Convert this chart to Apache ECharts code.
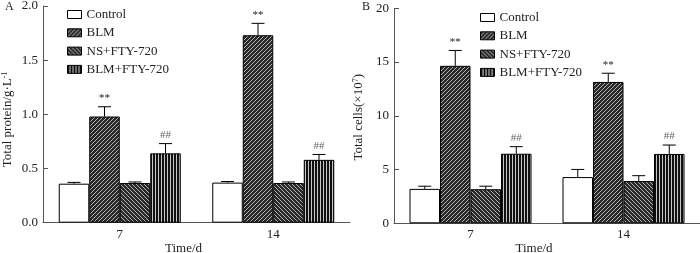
<!DOCTYPE html>
<html><head><meta charset="utf-8">
<script src="https://cdn.jsdelivr.net/npm/echarts@6/dist/echarts.min.js"></script>
<style>html,body{margin:0;padding:0;background:#fff}#c{width:700px;height:253px}</style>
</head><body><div id="c"></div>
<script>
// ---- data ----
const categories = ['7', '14'];
const seriesNames = ['Control', 'BLM', 'NS+FTY-720', 'BLM+FTY-720'];
const yTicksProtein = ['0.0', '0.5', '1.0', '1.5', '2.0'];
const yTicksCells = ['0', '5', '10', '15', '20'];

const proteinControl = [0.36, 0.37];
const proteinBLM = [0.98, 1.73];
const proteinNS = [0.366, 0.366];
const proteinBLMFTY = [0.64, 0.58];
const proteinErrControl = [0.012, 0.01];
const proteinErrBLM = [0.09, 0.11];
const proteinErrNS = [0.01, 0.01];
const proteinErrBLMFTY = [0.09, 0.05];

const cellsControl = [3.2, 4.3];
const cellsBLM = [14.65, 13.15];
const cellsNS = [3.17, 3.93];
const cellsBLMFTY = [6.47, 6.45];
const cellsErrControl = [0.25, 0.71];
const cellsErrBLM = [1.43, 0.81];
const cellsErrNS = [0.28, 0.5];
const cellsErrBLMFTY = [0.66, 0.83];

const marksControl = ['', ''];
const marksBLM = ['**', '**'];
const marksNS = ['', ''];
const marksBLMFTY = ['##', '##'];

// ---- styles ----
const FONT = '"Liberation Serif", "Times New Roman", serif';
const BAR_W = 30.5;
const CAP = 13;

function makePattern(kind) {
  const c = document.createElement('canvas');
  const ctx = c.getContext('2d');
  if (kind === 'vert') {
    c.width = 3; c.height = 3;
    ctx.fillStyle = '#111'; ctx.fillRect(0, 0, 3, 3);
    ctx.fillStyle = '#c8c8c8'; ctx.fillRect(2, 0, 1, 3);
  } else {
    const n = 4;
    c.width = n; c.height = n;
    ctx.fillStyle = '#2a2a2a'; ctx.fillRect(0, 0, n, n);
    ctx.strokeStyle = '#b0b0b0'; ctx.lineWidth = 1;
    ctx.beginPath();
    for (let k = -n; k <= n; k += n) {
      if (kind === 'fwd') { ctx.moveTo(k, n); ctx.lineTo(k + n, 0); }
      else { ctx.moveTo(k, 0); ctx.lineTo(k + n, n); }
    }
    ctx.stroke();
  }
  return { image: c, repeat: 'repeat' };
}
const fills = ['#ffffff', makePattern('fwd'), makePattern('back'), makePattern('vert')];

function errRender(sIdx, marks) {
  return function (params, api) {
    const i = api.value(0), v = api.value(1), e = api.value(2);
    const base = api.coord([i, v]);
    const top = api.coord([i, v + e]);
    const x = base[0] + (sIdx - 1.5) * BAR_W;
    const children = [
      { type: 'line', shape: { x1: x, y1: base[1], x2: x, y2: top[1] }, style: { stroke: '#000', lineWidth: 1 } },
      { type: 'line', shape: { x1: x - CAP / 2, y1: top[1], x2: x + CAP / 2, y2: top[1] }, style: { stroke: '#000', lineWidth: 1 } }
    ];
    const m = marks[params.dataIndex];
    if (m) children.push({ type: 'text', style: { text: m, x: x, y: top[1] - 3, align: 'center', verticalAlign: 'bottom', font: '11px ' + FONT, fill: m === '##' ? '#666' : '#222' } });
    return { type: 'group', children };
  };
}

const proteinMeans = [proteinControl, proteinBLM, proteinNS, proteinBLMFTY];
const proteinErrs = [proteinErrControl, proteinErrBLM, proteinErrNS, proteinErrBLMFTY];
const cellsMeans = [cellsControl, cellsBLM, cellsNS, cellsBLMFTY];
const cellsErrs = [cellsErrControl, cellsErrBLM, cellsErrNS, cellsErrBLMFTY];
const marks = [marksControl, marksBLM, marksNS, marksBLMFTY];

function panelSeries(g, means, errs) {
  const out = [];
  seriesNames.forEach((name, s) => {
    out.push({
      type: 'bar', name: name, xAxisIndex: g, yAxisIndex: g,
      data: means[s], barWidth: BAR_W, barGap: '0%',
      itemStyle: { color: fills[s], borderColor: '#000', borderWidth: 1 },
      silent: true, z: 2
    });
  });
  seriesNames.forEach((name, s) => {
    out.push({
      type: 'custom', name: name + ' err', xAxisIndex: g, yAxisIndex: g,
      data: means[s].map((v, i) => [i, v, errs[s][i]]),
      renderItem: errRender(s, marks[s]), z: 3, silent: true
    });
  });
  return out;
}

const axisLineStyle = { lineStyle: { color: '#555', width: 1 } };
function xAxisCfg(g) {
  return {
    type: 'category', gridIndex: g, data: categories, boundaryGap: true,
    axisLine: axisLineStyle, axisTick: { show: false },
    axisLabel: { fontSize: 13, color: '#222', margin: 5, fontFamily: FONT },
    name: 'Time/d', nameLocation: 'middle', nameGap: 19, nameMoveOverlap: false,
    nameTextStyle: { fontSize: 13, color: '#222', fontFamily: FONT, padding: [0, 26, 0, 0] }
  };
}
function yAxisCfg(g, max, interval, ticks, name, shift) {
  return {
    type: 'value', gridIndex: g, min: 0, max: max, interval: interval,
    axisLine: { show: true, lineStyle: { color: '#555', width: 1 } },
    axisTick: { show: true, inside: true, length: 5, lineStyle: { color: '#555' } },
    splitLine: { show: false },
    axisLabel: {
      fontSize: 13, color: '#222', margin: 5, fontFamily: FONT,
      formatter: (v) => ticks[Math.round(v / interval)]
    },
    name: name, nameLocation: 'middle', nameGap: 28, nameRotate: 90, nameMoveOverlap: false,
    nameTextStyle: {
      fontSize: 13, color: '#222', fontFamily: FONT, padding: [0, shift, 0, 0],
      rich: { sup: { fontSize: 8, verticalAlign: 'top', color: '#222', fontFamily: FONT, padding: [0, 0, 6, 0] } }
    }
  };
}

const legendBase = {
  orient: 'vertical', icon: 'rect', itemWidth: 14, itemHeight: 8, itemGap: 5.3,
  textStyle: { fontSize: 13, color: '#222', fontFamily: FONT },
  itemStyle: { borderColor: '#000', borderWidth: 1 },
  selectedMode: false, data: seriesNames
};

const chart = echarts.init(document.getElementById('c'), null, { renderer: 'canvas' });
chart.setOption({
  animation: false,
  textStyle: { fontFamily: FONT },
  grid: [
    { left: 43, top: 6, width: 307, bottom: 30.3, outerBoundsMode: 'none', containLabel: false },
    { left: 394, top: 8.3, width: 306, bottom: 29.7, outerBoundsMode: 'none', containLabel: false }
  ],
  xAxis: [xAxisCfg(0), xAxisCfg(1)],
  yAxis: [
    yAxisCfg(0, 2, 0.5, yTicksProtein, 'Total protein/g·L{sup|-1}', 10),
    yAxisCfg(1, 20, 5, yTicksCells, 'Total cells(×10{sup|7})', 3)
  ],
  legend: [
    Object.assign({}, legendBase, { left: 62, top: 3 }),
    Object.assign({}, legendBase, { left: 475, top: 6 })
  ],
  graphic: [
    { type: 'text', left: 5, top: 1, style: { text: 'A', font: '12px ' + FONT, fill: '#222' } },
    { type: 'text', left: 362, top: 1, style: { text: 'B', font: '12px ' + FONT, fill: '#222' } }
  ],
  series: panelSeries(0, proteinMeans, proteinErrs).concat(panelSeries(1, cellsMeans, cellsErrs))
});
</script>
</body></html>
